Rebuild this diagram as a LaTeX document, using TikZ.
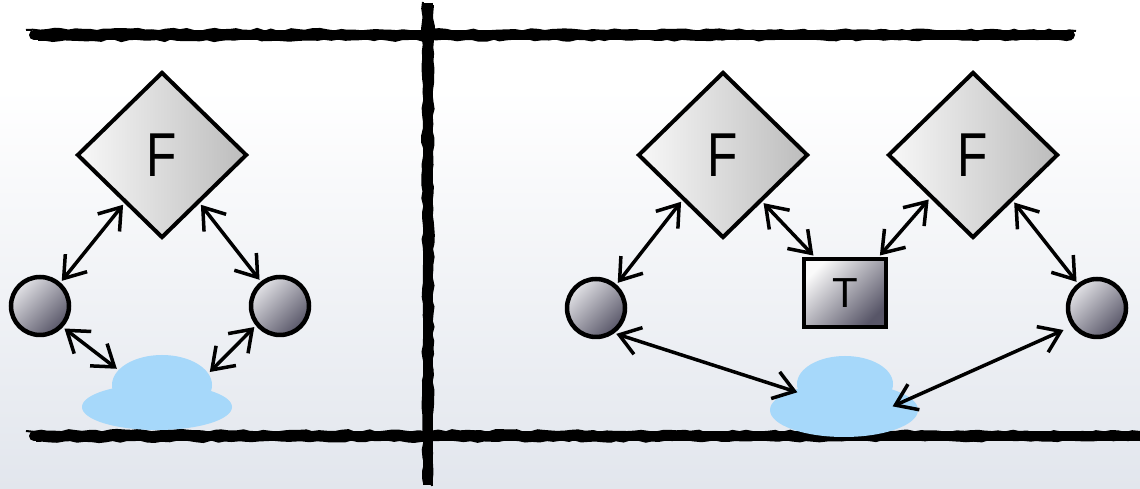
\documentclass[tikz,border=0pt]{standalone}
\usepackage{fontspec}
\newfontfamily\lab{Liberation Sans}
\usetikzlibrary{shapes.geometric,arrows.meta,decorations.pathmorphing,calc}
\definecolor{cloud}{RGB}{166,216,250}
\definecolor{bgbot}{RGB}{226,230,237}
\definecolor{dkball}{RGB}{88,86,104}
\definecolor{ltball}{RGB}{226,226,230}
\definecolor{dmL}{RGB}{248,248,248}
\definecolor{dmR}{RGB}{188,188,188}
\pgfmathsetseed{7}
\begin{document}
\begin{tikzpicture}[x=1pt,y=1pt,
 fdia/.style={diamond, minimum width=170pt, minimum height=166pt, inner sep=0pt, draw=black, line width=4pt, left color=dmL, right color=dmR, font=\lab\fontsize{62}{62}\selectfont},
 ball/.style={circle, minimum size=58pt, inner sep=0pt, draw=black, line width=4.5pt, top color=ltball, bottom color=dkball, shading angle=45},
 tbox/.style={rectangle, minimum width=82pt, minimum height=68pt, inner sep=0pt, draw=black, line width=4pt, top color=white!96!gray, bottom color=dkball, shading angle=45, font=\lab\fontsize{42}{42}\selectfont},
 puff/.style={ellipse, fill=cloud, inner sep=0pt},
 tip/.tip={Straight Barb[length=20pt,width=28pt,line width=3.5pt]},
 arr/.style={line width=3.5pt, tip-tip, shorten <=2pt, shorten >=2pt},
 bar/.style={line width=10pt, line cap=round},
 scratch/.style={line width=2pt, decorate, decoration={random steps, segment length=7pt, amplitude=1.3pt}}
]
\useasboundingbox (0,0) rectangle (1140,489);
% background
\fill[white] (0,0) rectangle (1140,489);
\shade[top color=white, bottom color=bgbot] (0,0) rectangle (1140,400);

% frame lines
\draw[bar] (34,454) -- (1070,454);
\draw[scratch] (26,459) -- (1076,458);
\draw[scratch] (38,449) -- (1072,450);
\draw[bar] (34,53) -- (1140,53);
\draw[scratch] (26,58) -- (1140,57);
\draw[scratch] (36,48) -- (1140,49);
\draw[line width=10pt] (428,486) -- (428,4);
\draw[scratch] (423,487) -- (424,6);
\draw[scratch] (433,484) -- (432,3);

% left panel
\node[fdia] (FL) at (162,334) {\scalebox{0.8}[1]{F}};
\node[ball] (CL1) at (40,183) {};
\node[ball] (CL2) at (280,183) {};
\node[puff, minimum width=150pt, minimum height=46pt] (cLlo) at (157,82) {};
\node[puff, minimum width=100pt, minimum height=60pt] (cLup) at (162,104) {};

% right panel
\node[fdia] (FR1) at (723,334) {\scalebox{0.8}[1]{F}};
\node[fdia] (FR2) at (973,334) {\scalebox{0.8}[1]{F}};
\node[tbox] (T) at (845,196) {\raisebox{-4pt}{T}};
\node[ball] (CR1) at (596,181) {};
\node[ball] (CR2) at (1097,181) {};
\node[puff, minimum width=148pt, minimum height=54pt] (cRlo) at (844,79) {};
\node[puff, minimum width=96pt, minimum height=56pt] (cRup) at (845,105) {};

% connectors
\draw[arr] (CL1.49) -- (FL.232);
\draw[arr] (FL.308) -- (CL2.128);
\draw[arr] (CL1.317) -- (cLup.161);
\draw[arr] (CL2.219) -- (cLup.14);
\draw[arr] (CR1.49) -- (FR1.228);
\draw[arr] (FR1.310) -- (T.130);
\draw[arr] (T.47) -- (FR2.225);
\draw[arr] (FR2.311) -- (CR2.128);
\draw[arr] (CR1.306) -- (cRup.191);
\draw[arr, shorten <=9pt, shorten >=-20pt] (CR2.216) -- (cRlo.10);
\end{tikzpicture}
\end{document}
